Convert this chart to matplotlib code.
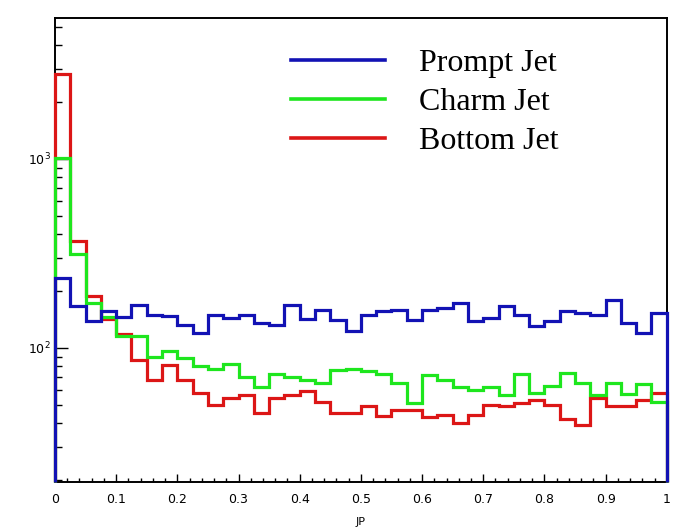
import numpy as np
import matplotlib
matplotlib.use('Agg')
import matplotlib.pyplot as plt
from matplotlib.ticker import LogLocator, MultipleLocator, NullFormatter

# 40 bins of JP between 0 and 1
bin_edges = np.linspace(0.0, 1.0, 41)

prompt_counts = [235, 167, 138, 156, 145, 169, 150, 148, 132, 120,
                 150, 144, 150, 135, 132, 169, 142, 159, 141, 123,
                 150, 157, 159, 140, 159, 162, 172, 138, 144, 167,
                 150, 130, 138, 156, 153, 150, 179, 136, 120, 153]
charm_counts = [1016, 314, 172, 145, 116, 116, 89, 96, 88, 80,
                77, 82, 70, 62, 73, 70, 68, 65, 76, 77,
                75, 73, 65, 51, 72, 68, 62, 60, 62, 56,
                73, 57.5, 63, 74, 65, 56, 65, 57, 64, 52]
bottom_counts = [2806, 370, 189, 142, 119, 86, 68, 81, 68, 57.5,
                 50, 54, 56, 45, 54, 56, 59, 52, 45, 45,
                 49, 43.6, 47, 47, 43, 44, 40, 44, 50, 49,
                 51, 53, 50, 42, 39, 54, 49, 49, 53, 57.5]

labels = ['Prompt Jet', 'Charm Jet', 'Bottom Jet']
x_ticks = [0, 0.1, 0.2, 0.3, 0.4, 0.5, 0.6, 0.7, 0.8, 0.9, 1]
x_tick_labels = ['0', '0.1', '0.2', '0.3', '0.4', '0.5', '0.6', '0.7', '0.8', '0.9', '1']

BLUE = '#1212b4'
GREEN = '#1ee61e'
RED = '#dc1616'
Y_LOW, Y_HIGH = 19.5, 5570

fig = plt.figure(figsize=(6.79, 5.31), dpi=100, facecolor='white')
ax = fig.add_axes([0.081, 0.0923, 0.901, 0.8737])

# draw order: red under green under blue (blue covers the left edge)
hists = [(bottom_counts, RED, labels[2]), (charm_counts, GREEN, labels[1]), (prompt_counts, BLUE, labels[0])]
handles = {}
for counts, color, label in hists:
    ax.stairs(counts, bin_edges, baseline=Y_LOW, color=color, linewidth=2.3,
              clip_on=False, zorder=3)
    handles[label] = plt.Line2D([], [], color=color, linewidth=2.6)

ax.set_yscale('log')
ax.set_xlim(0, 1)
ax.set_ylim(Y_LOW, Y_HIGH)

ax.set_xticks(x_ticks)
ax.set_xticklabels(x_tick_labels)
ax.xaxis.set_minor_locator(MultipleLocator(0.02))
ax.yaxis.set_major_locator(LogLocator(base=10))
ax.yaxis.set_minor_locator(LogLocator(base=10, subs=np.arange(2, 10)))
ax.yaxis.set_minor_formatter(NullFormatter())

ax.tick_params(axis='both', which='both', direction='in', top=False, right=False,
               labelsize=9, width=1.0, color='black')
ax.tick_params(axis='x', which='major', length=5.5, pad=8)
ax.tick_params(axis='x', which='minor', length=3)
ax.tick_params(axis='y', which='major', length=9, pad=3)
ax.tick_params(axis='y', which='minor', length=5)

for s in ax.spines.values():
    s.set_linewidth(1.4)
    s.set_color('black')

ax.set_xlabel('JP', fontsize=8)
ax.xaxis.set_label_coords(0.5, -0.075)

ax.legend([handles[l] for l in labels], labels, loc='upper left', bbox_to_anchor=(0.365, 0.962),
          frameon=False, prop={'family': 'Liberation Serif', 'size': 23},
          handlelength=2.95, handletextpad=1.05, labelspacing=0.31, borderaxespad=0)

fig.savefig('out.png', dpi=100, facecolor='white')
